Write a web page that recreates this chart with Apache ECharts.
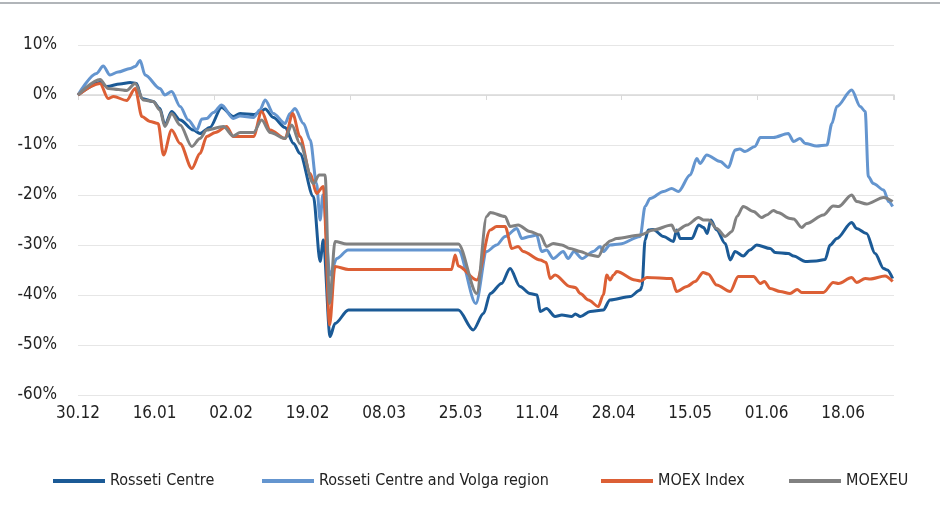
<!DOCTYPE html>
<html lang="en">
<head>
    <meta charset="UTF-8">
    <title>Rosseti Centre vs MOEX</title>
    <script src="https://cdn.jsdelivr.net/npm/echarts@6/dist/echarts.min.js"></script>
    <style>
        html, body { margin: 0; padding: 0; background: #fff; }
        #main { width: 940px; height: 505px; }
    </style>
</head>
<body>
<div id="main"></div>
<script>
    // x = days since 30.12, y = change in %
    const tickLabels = ['30.12', '16.01', '02.02', '19.02', '08.03', '25.03', '11.04', '28.04', '15.05', '01.06', '18.06'];
    const seriesNames = ['Rosseti Centre', 'Rosseti Centre and Volga region', 'MOEX Index', 'MOEXEU'];

    const rossetiCentre = [
        [0, 0], [5, 2.5], [6.4, 1.7], [9.3, 2.2], [11.6, 2.5], [13, 2.3], [14.2, -0.7], [16.7, -1.3],
        [18.2, -2.7], [19.3, -6], [20.8, -3.3], [22.7, -5], [25.6, -7], [27.1, -7.7], [29.3, -6.5],
        [31.9, -2.5], [34.5, -4.3], [36, -3.7], [39, -3.9], [40.4, -3.5], [41.6, -2.8], [43.4, -4.5],
        [46, -6.5], [47.9, -9.7], [49.3, -11.7], [52.3, -20.3], [53.8, -33.3], [54.5, -29], [56, -48.3],
        [57.1, -45.7], [60.1, -43], [84.5, -43], [87.8, -47], [90.1, -43.7], [91.6, -39.7], [94.1, -37.7],
        [96, -34.7], [98.2, -38.3], [100.4, -39.7], [102, -40], [102.7, -43.3], [104.1, -42.7], [106, -44.3],
        [107.5, -44], [109.7, -44.3], [110.5, -43.8], [111.6, -44.3], [113.8, -43.3], [116.7, -43],
        [118.2, -41], [122.7, -40.3], [124.9, -39], [125.3, -38.3], [126, -29], [126.7, -27], [127.8, -26.9],
        [130.1, -28.3], [132.3, -29.3], [133, -27], [133.8, -28.7], [136.4, -28.7], [137.9, -26], [139, -26.5],
        [139.8, -27.7], [140.6, -25], [141.9, -27], [143.8, -29.7], [144.9, -33], [146, -31.3], [147.8, -32.2],
        [149.3, -31], [150.8, -30], [153.8, -30.7], [154.9, -31.5], [157.8, -31.7], [159, -32.2], [161.6, -33.3],
        [164, -33.2], [166, -32.9], [167.1, -30], [168.6, -28.7], [171.9, -25.5], [173, -26.7], [175.2, -27.7],
        [177.1, -31.7], [179, -34.7], [179.8, -35], [181, -36.7]
    ];

    const rossetiVolga = [
        [0, 0], [4.1, 4.3], [5.6, 5.8], [7.1, 4], [8.9, 4.6], [11.6, 5.3], [12.7, 5.7], [13.8, 6.9], [14.9, 4],
        [18.2, 1.3], [19.3, 0], [20.8, 0.7], [22.7, -2.3], [24.5, -5], [26.4, -7], [27.5, -4.8], [28.6, -4.7],
        [30.1, -3.5], [31.9, -2], [34.5, -4.7], [36, -4.2], [39, -4.5], [40.4, -3], [41.6, -1], [43.4, -3.7],
        [46, -5.7], [47.1, -3.7], [48.2, -2.7], [50.1, -5.7], [51.6, -9], [53, -17.7], [53.8, -25], [54.4, -20],
        [56, -36], [57.5, -32.7], [60, -31], [84.5, -31], [88.4, -41.7], [90.8, -31.3], [93, -30], [94.9, -28.3],
        [97.5, -26.7], [98.6, -28.7], [100.4, -28.3], [101.9, -28], [103, -31.3], [104.1, -31], [105.6, -32.7],
        [107.8, -31.3], [108.9, -32.7], [110.2, -31.3], [112, -32.7], [114.5, -31.3], [116, -30.3], [116.7, -31.3],
        [118.2, -30], [120.4, -29.8], [124.9, -28.3], [126, -22.3], [127.1, -20.7], [130.1, -19.3], [131.9, -18.7],
        [133.4, -19.3], [136, -16], [137.5, -12.7], [138.2, -13.7], [139.7, -12], [142.7, -13.3], [144.5, -14.5],
        [146, -11], [147, -10.8], [148.2, -11.3], [150.4, -10.3], [151.6, -8.5], [154.5, -8.5], [157.8, -7.7],
        [159, -9.3], [160.4, -8.7], [161.6, -9.7], [164.1, -10.2], [166.4, -10], [167.5, -5.7], [168.6, -2.3],
        [171.9, 1], [173.8, -2.3], [174.9, -3.3], [175.6, -16.3], [176.7, -17.7], [179, -19], [180.1, -21.3],
        [181, -22.3]
    ];

    const moexIndex = [
        [0, 0], [4.9, 2.3], [6.7, -0.7], [7.9, -0.3], [10.8, -1.1], [12.7, 1.3], [14.2, -4.3], [16, -5.3],
        [17.8, -5.7], [19, -12], [20.8, -7], [22.7, -9.7], [25.3, -14.7], [27.1, -11.7], [28.6, -8.3],
        [30.5, -7.5], [33, -6.3], [34.5, -8.3], [39, -8.3], [40.8, -3.3], [42.7, -7], [46, -8.7], [47.7, -3.7],
        [49.3, -8.3], [51.6, -15.7], [53, -19.7], [54.5, -18.3], [55.9, -46], [57.1, -34.3], [60.1, -34.9],
        [83, -34.9], [83.8, -32], [84.5, -34.2], [88.6, -37], [91.6, -27], [93, -26.3], [94.9, -26.3],
        [96.4, -30.7], [97.8, -30.3], [98.9, -31.3], [102.7, -33], [104, -33.5], [104.9, -36.7], [106, -36],
        [109.3, -38.3], [110.5, -38.5], [111.6, -39.7], [113.4, -41], [115.6, -42.3], [116.7, -40], [117.5, -36],
        [118.2, -37], [119, -36], [119.7, -35.3], [123.8, -37], [125, -37.2], [126.4, -36.5], [131.9, -36.7],
        [133, -39.3], [135.3, -38.3], [137.1, -37.3], [138.9, -35.5], [140, -35.8], [141.9, -38], [144.9, -39.3],
        [146.7, -36.3], [150.1, -36.3], [151.6, -37.7], [152.5, -37.3], [153.8, -38.7], [156, -39.3],
        [158.2, -39.7], [159.8, -38.9], [160.8, -39.5], [165.6, -39.5], [167.8, -37.5], [169, -37.7],
        [171.9, -36.5], [173, -37.5], [174.9, -36.7], [176, -36.8], [179.3, -36.2], [181, -37.3]
    ];

    const moexEu = [
        [0, 0], [4.9, 3.1], [6.7, 1.3], [9, 1.1], [10.8, 0.9], [12.7, 2.3], [14.5, -1], [16.7, -1.3], [18.2, -3],
        [19.3, -6.3], [20.8, -3.7], [22.7, -6], [25.3, -10.3], [27.1, -8.7], [28.6, -7], [32.3, -6.3],
        [34.5, -8.2], [36, -7.5], [39, -7.5], [40.8, -5], [42.7, -7.5], [46, -8.7], [47.5, -6], [49.3, -9.7],
        [52.3, -17.7], [53.6, -16], [54.9, -16], [55.9, -41.7], [57.1, -29.3], [59.7, -29.8], [84.5, -29.8],
        [88.6, -39.7], [90.8, -24.3], [91.6, -23.5], [94.9, -24.3], [96, -26.3], [97.8, -26], [100.4, -27.3],
        [102.7, -28], [104.1, -30.3], [105.6, -29.7], [107.5, -30], [109.3, -30.7], [111.6, -31.3], [113.8, -32],
        [115.6, -32.3], [117.1, -30], [118.2, -29.2], [119.7, -28.7], [124.9, -28], [127.8, -27], [131.9, -26],
        [132.7, -27.3], [135.3, -26], [137.9, -24.5], [139, -25], [140.1, -25], [141.9, -26.7], [143.8, -28.3],
        [145.3, -27.3], [146.4, -24.3], [147.8, -22.3], [150.1, -23.3], [151.9, -24.5], [153, -24], [154.5, -23.1],
        [155.5, -23.5], [158.2, -24.7], [159, -24.8], [160.8, -26.5], [161.9, -25.7], [165.6, -24], [167.8, -22.2],
        [169, -22.3], [171.9, -20], [173, -21.3], [175.2, -21.8], [179, -20.5], [181, -21.3]
    ];

    const colors = ['#1b5a96', '#6495cf', '#dc5f35', '#818181'];
    const font = "'Liberation Sans Narrow', 'DejaVu Sans Condensed', sans-serif";

    let myChart = echarts.init(document.getElementById('main'));

    function lineSeries(name, data, color) {
        return {
            name: name,
            type: 'line',
            data: data,
            showSymbol: false,
            smooth: 0.3,
            smoothMonotone: 'x',
            lineStyle: {width: 3, color: color},
            itemStyle: {color: color}
        };
    }

    // one legend per item so the spacing follows the picture
    let legendLeft = [48, 257, 596, 784];
    let legends = seriesNames.map(function (n, i) {
        return {
            data: [n],
            left: legendLeft[i],
            top: 468,
            icon: 'rect',
            itemWidth: 52,
            itemHeight: 4,
            textStyle: {fontFamily: font, fontSize: 16, color: '#222'}
        };
    });

    let option = {
        animation: false,
        color: colors,
        graphic: [{
            type: 'rect',
            shape: {x: 0, y: 2, width: 940, height: 2},
            style: {fill: '#b1b5b9'}
        }],
        legend: legends,
        grid: {left: 78, right: 46, top: 45, bottom: 110},
        xAxis: [{
            type: 'value',
            min: 0,
            max: 181.3,
            interval: 17,
            axisLine: {show: false, onZero: false},
            axisTick: {show: false},
            splitLine: {show: false},
            axisLabel: {
                margin: 10,
                showMaxLabel: false,
                fontFamily: font,
                fontSize: 17,
                color: '#222',
                formatter: function (v) {
                    return tickLabels[Math.round(v / 17)] || '';
                }
            }
        }, {
            type: 'value',
            position: 'top',
            min: 0,
            max: 181.3,
            interval: 30.2,
            axisLine: {show: true, onZero: true, lineStyle: {color: '#d9d9d9', width: 1.5}},
            axisTick: {show: true, inside: true, length: 5, lineStyle: {color: '#d9d9d9'}},
            axisLabel: {show: false},
            splitLine: {show: false}
        }],
        yAxis: {
            type: 'value',
            min: -60,
            max: 10,
            interval: 10,
            axisLine: {show: false},
            axisTick: {show: false},
            splitLine: {lineStyle: {color: '#e6e6e6', width: 1}},
            axisLabel: {
                margin: 21,
                fontFamily: font,
                fontSize: 17,
                color: '#222',
                formatter: '{value}%'
            }
        },
        series: [
            lineSeries(seriesNames[0], rossetiCentre, colors[0]),
            lineSeries(seriesNames[1], rossetiVolga, colors[1]),
            lineSeries(seriesNames[2], moexIndex, colors[2]),
            lineSeries(seriesNames[3], moexEu, colors[3])
        ]
    };

    myChart.setOption(option);
</script>
</body>
</html>
